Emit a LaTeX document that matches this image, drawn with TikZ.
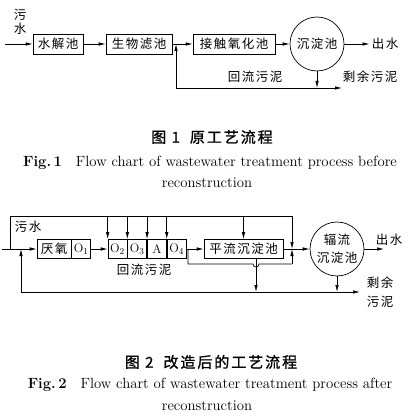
\documentclass[tikz,border=0pt]{standalone}
\usepackage{fontspec}
\newfontfamily\cjk{Noto Sans CJK SC}[LetterSpace=12]
\newfontfamily\cjkbf{Noto Sans CJK SC}[FakeBold=1.2,LetterSpace=13]
\usetikzlibrary{arrows.meta,positioning}
\tikzset{
  pool/.style={draw,line width=0.7pt,minimum height=20pt,inner sep=1pt,font=\cjk\fontsize{12.5}{14}\selectfont},
  cell/.style={pool,minimum width=19pt,minimum height=19pt,font=\fontsize{12.5}{14}\selectfont},
  tank/.style={draw,circle,line width=0.7pt,minimum size=54pt,inner sep=0pt,align=center,font=\cjk\fontsize{12.5}{18}\selectfont},
  lbl/.style={inner sep=2pt,font=\cjk\fontsize{12.5}{14}\selectfont},
  capcn/.style={inner sep=0pt,font=\cjkbf\fontsize{15}{17}\selectfont},
  capen/.style={inner sep=0pt,font=\fontsize{14.8}{17}\selectfont},
  flow/.style={line width=0.7pt,-{Latex[length=7pt,width=3.5pt]}},
  pipe/.style={line width=0.7pt}
}
\begin{document}
\begin{tikzpicture}[x=1pt,y=-1pt]
  \useasboundingbox (0,0) rectangle (413,419);
  \node[lbl,align=center] (sew1) at (20,22) {污\\水};
  \coordinate (in1) at (5,44);
  \node[pool,minimum width=50pt] (hydro) at (58,44) {水解池};
  \node[pool,minimum width=66pt] (bio) at (139,44) {生物滤池};
  \node[pool,minimum width=82pt] (contact) at (234,44) {接触氧化池};
  \node[tank] (sed1) at (317,44) {沉淀池};
  \node[lbl] (out1) at (385,44) {出水};
  \coordinate (ret1) at (176,44);
  \coordinate (bl1) at (176,88);
  \coordinate (br1) at (342,88);
  \node[lbl] (rs1) at (255,77) {回流污泥};
  \node[lbl] (ex1) at (370,77) {剩余污泥};
  \draw[flow] (in1) -- (hydro);
  \draw[flow] (hydro) -- (bio);
  \draw[flow] (bio) -- (contact);
  \draw[flow] (contact) -- (sed1);
  \draw[flow] (sed1) -- (out1);
  \draw[flow] (sed1) -- (sed1 |- bl1);
  \draw[flow] (bl1) -- (ret1);
  \draw[flow] (bl1) -- (br1);
  \node[capcn] (cap1) at (212,137) {图 1\hspace{10pt}原工艺流程};
  \node[capen] (fig1) at (210,163) {\textbf{Fig.\,1}\hspace{14pt}Flow chart of wastewater treatment process before};
  \node[capen] (rec1) at (207,183) {reconstruction};

  \coordinate (in2) at (2,249);
  \coordinate (tl) at (10,216);
  \coordinate (tr) at (292,216);
  \coordinate (jn) at (292,249);
  \node[lbl] (sew2) at (28,227) {污水};
  \node[pool,minimum width=34pt,minimum height=19pt] (ana) at (54,249) {厌氧};
  \node[cell,right=0pt of ana] (o1) {O$_1$};
  \node[cell] (o2) at (117.5,249) {O$_2$};
  \node[cell,right=0pt of o2] (o3) {O$_3$};
  \node[cell,right=0pt of o3] (an) {A};
  \node[cell,right=0pt of an] (o4) {O$_4$};
  \node[pool,minimum width=79pt,minimum height=19pt] (settle) at (243.5,249) {平流沉淀池};
  \node[tank] (sed2) at (337,249) {辐流\\沉淀池};
  \coordinate (out2) at (384,249);
  \node[lbl] (out2t) at (389,240) {出水};
  \node[lbl] (rs2) at (144,270) {回流污泥};
  \node[lbl,align=center,font=\cjk\fontsize{12.5}{19}\selectfont] (ex2) at (380,292) {剩余\\污泥};
  \coordinate (bp) at (188,249);
  \coordinate (bp1) at (188,264);
  \coordinate (bp2) at (292,264);
  \coordinate (sd) at (256,292);
  \coordinate (bl2) at (21,292);
  \coordinate (br2) at (360,292);
  \draw[flow] (in2) -- (ana);
  \draw[flow] (tl |- in2) -- (tl) -- (tr) -- (jn);
  \foreach \c in {o2,o3,an,o4}
    \draw[flow] (\c.north west |- tl) -- (\c.north west);
  \draw[flow] (settle.north |- tl) -- (settle);
  \draw[flow] (o1) -- (o2);
  \draw[flow] (o4) -- (settle);
  \draw[flow] (settle) -- (sed2);
  \draw[flow] (sed2) -- (out2);
  \draw[flow] (sed2) -- (sed2 |- bl2);
  \draw[pipe] (bp) -- (bp1) -- (253,264) .. controls (253,268) and (259,268) .. (259,264) -- (bp2);
  \draw[flow] (bp2) -- (jn);
  \draw[flow] (sd |- settle.south) -- (sd);
  \draw[flow] (bl2) -- (br2);
  \draw[flow] (bl2) -- (bl2 |- in2);
  \node[capcn] (cap2) at (211,362) {图 2\hspace{10pt}改造后的工艺流程};
  \node[capen] (fig2) at (210,385) {\textbf{Fig.\,2}\hspace{14pt}Flow chart of wastewater treatment process after};
  \node[capen] (rec2) at (207,406) {reconstruction};
\end{tikzpicture}
\end{document}
